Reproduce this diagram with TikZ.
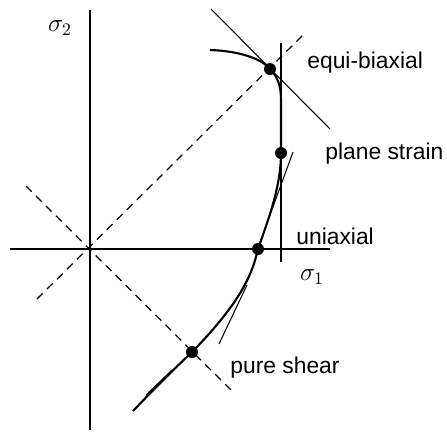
\documentclass[tikz,border=0pt]{standalone}
\usepackage{fontspec}
\setmainfont{Liberation Sans}
\usetikzlibrary{positioning}

\begin{document}
\begin{tikzpicture}[
  x=0.02cm,y=-0.02cm,
  every node/.style={font=\fontsize{13}{15}\selectfont},
  axis/.style={line width=0.7pt},
  diag/.style={line width=0.7pt,dash pattern=on 4.6pt off 3.4pt},
  locus/.style={line width=1.2pt},
  tang/.style={line width=0.6pt},
  dot/.style={circle,fill,inner sep=0pt,minimum size=0.24cm},
  lbl/.style={anchor=base west,inner sep=0pt},
  sig/.style={font=\Large}
]
\useasboundingbox (0,0) rectangle (447,434);
% axes and symmetry lines
\coordinate (o) at (90,249);
\coordinate (xl) at (10,249);
\coordinate (xr) at (330,249);
\coordinate (yt) at (90,10);
\coordinate (yb) at (90,430);
\draw[axis] (xl) -- (xr);
\draw[axis] (yb) -- (yt);
\coordinate (pa) at (37,299);
\coordinate (pb) at (306,32);
\coordinate (sa) at (26,186);
\coordinate (sb) at (234,393);
\draw[diag] (pa) -- (pb);
\draw[diag] (sa) -- (sb);
\node[sig] (s2) at (60,28) {$\sigma_2$};
\node[sig] (s1) at (312,277) {$\sigma_1$};
% yield locus
\node[dot] (eb) at (270,69) {};
\node[dot] (ps) at (281,153) {};
\node[dot] (ua) at (258,249) {};
\node[dot] (sh) at (192,352) {};
\coordinate (c0) at (210,50);
\coordinate (c5) at (133,411);
\draw[locus] (c0) .. controls (240,51) and (262,59) .. (eb.center)
  .. controls (278,77) and (281,86) .. (281,100) -- (ps.center)
  .. controls (281,185) and (270,215) .. (ua.center)
  .. controls (253,270) and (245,298) .. (sh.center)
  .. controls (172,371) and (152,391) .. (c5);
% tangents
\coordinate (t1a) at (211,9);
\coordinate (t1b) at (330,129);
\draw[tang] (t1a) -- (t1b);
\coordinate (t2a) at (281,43);
\coordinate (t2b) at (281,262);
\draw[axis] (t2a) -- (t2b);
\coordinate (t3a) at (293,152);
\coordinate (t3b) at (266,226);
\draw[tang] (t3a) -- (t3b);
\coordinate (t4a) at (247,285);
\coordinate (t4b) at (219,344);
\draw[tang] (t4a) -- (t4b);
\coordinate (t5a) at (146,395);
\coordinate (t5b) at (172,370);
\draw[tang] (t5a) -- (t5b);
% labels
\node[lbl] (leb) at (307,68) {equi-biaxial};
\node[lbl] (lps) at (325,159) {plane strain};
\node[lbl] (lua) at (296,244) {uniaxial};
\node[lbl] (lsh) at (230,373) {pure shear};
\end{tikzpicture}
\end{document}
